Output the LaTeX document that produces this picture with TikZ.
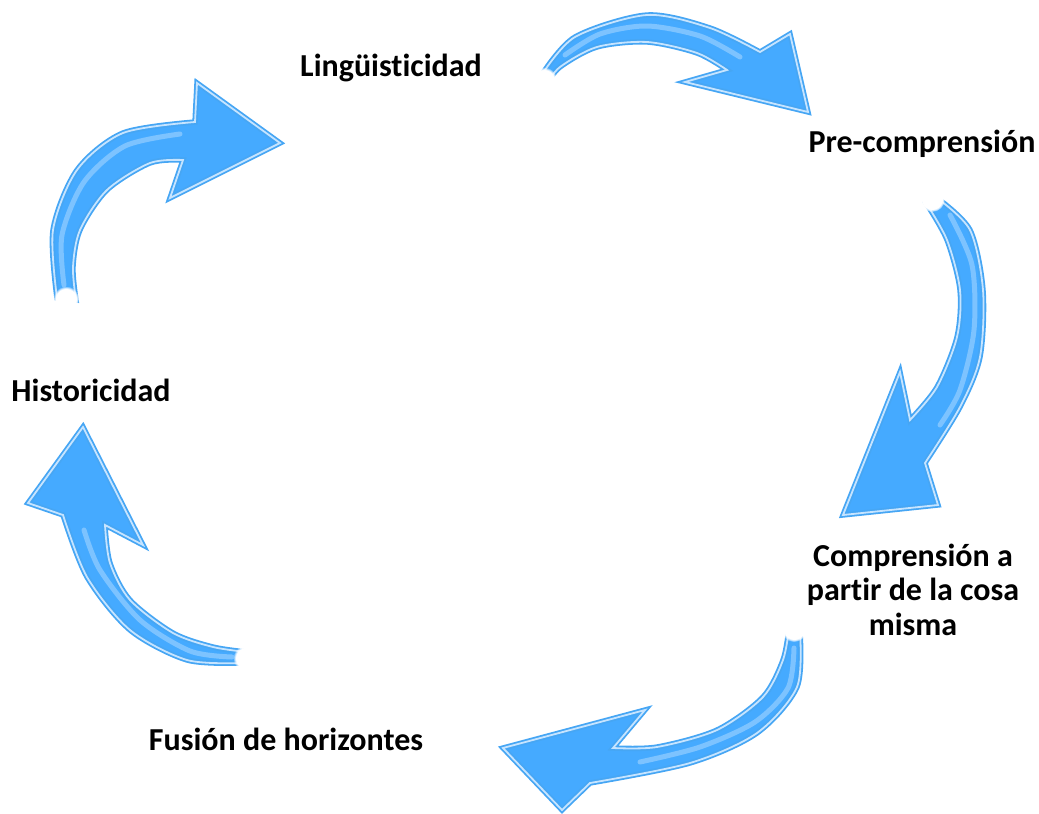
\documentclass[tikz,border=0pt]{standalone}
\usepackage{fontspec}
\setmainfont{Carlito}[Ligatures=NoCommon]
\usepackage{tikz}
\usetikzlibrary{fadings}

\definecolor{azul}{HTML}{45AAFF}
\definecolor{azulborde}{HTML}{46A6F4}
\definecolor{azulluz}{HTML}{C6E4FF}

\tikzset{
  flecha/.style={fill=azul, draw=azulborde, line width=1.8pt, double=azulluz, double distance=1.8pt, line join=miter},
  brillo/.style={draw=white, opacity=0.3, line width=5pt, line cap=round},
  etiqueta/.style={font=\bfseries\fontsize{32}{34.5}\selectfont, inner sep=0pt, align=center},
}

\begin{document}
\begin{tikzpicture}[x=1pt,y=-1pt]
    \useasboundingbox (0,0) rectangle (1039,814);

    \node[etiqueta,anchor=base] (ling) at (391,76) {Lingüisticidad};
    \node[etiqueta,anchor=base] (pre) at (922,152) {Pre-comprensión};
    \node[etiqueta,anchor=base] (comp) at (913,635) {Comprensión a\\partir de la cosa\\misma};
    \node[etiqueta,anchor=base] (fus) at (286,750) {Fusión de horizontes};
    \node[etiqueta,anchor=base] (hist) at (91,401) {Historicidad};

    % flechas
    \filldraw[flecha] plot[smooth] coordinates {(541,76) (575,37) (647,15) (710,28) (760,52)}
        -- (790,34) -- (808,112) -- (685,82) -- (727,70)
        -- plot[smooth] coordinates {(727,70) (697,53) (647,42) (597,47) (560,67) (547,84)} -- cycle;
    \filldraw[flecha] plot[smooth] coordinates {(937,198) (970,230) (983,290) (980,357) (960,407) (925,463)}
        -- (938,505) -- (843,515) -- (900,372) -- (910,420)
        -- plot[smooth] coordinates {(910,420) (937,387) (957,337) (960,290) (947,240) (926,203)} -- cycle;
    \filldraw[flecha] plot[smooth] coordinates {(800,632) (797,687) (757,733) (690,763) (590,783)}
        -- (562,810) -- (503,748) -- (645,710) -- (613,748)
        -- plot[smooth] coordinates {(613,748) (657,747) (717,730) (763,697) (783,660) (789,628)} -- cycle;
    \filldraw[flecha] plot[smooth] coordinates {(243,663) (187,660) (130,630) (87,577) (63,515)}
        -- (28,503) -- (83,427) -- (143,545) -- (105,525)
        -- plot[smooth] coordinates {(105,525) (110,563) (130,600) (173,633) (213,647) (247,652)} -- cycle;
    \filldraw[flecha] plot[smooth] coordinates {(57,298) (53,230) (77,170) (123,133) (195,122)}
        -- (197,83) -- (280,143) -- (170,198) -- (183,160)
        -- plot[smooth] coordinates {(183,160) (150,163) (107,190) (80,230) (73,267) (76,300)} -- cycle;

    % brillos
    \draw[brillo] plot[smooth] coordinates {(565,55) (600,34) (647,26) (700,36) (740,57)};
    \draw[brillo] plot[smooth] coordinates {(950,215) (972,265) (974,330) (960,390) (940,425)};
    \draw[brillo] plot[smooth] coordinates {(794,648) (788,688) (755,722) (700,747) (640,762)};
    \draw[brillo] plot[smooth] coordinates {(232,657) (190,651) (140,620) (100,570) (84,530)};
    \draw[brillo] plot[smooth] coordinates {(64,285) (62,235) (84,182) (125,146) (180,134)};

    % colas difuminadas
    \foreach \p in {(544,80),(932,199),(794,629),(246,658),(66,299)}
        \fill[white,path fading=circle with fuzzy edge 20 percent] \p circle (13);
\end{tikzpicture}
\end{document}
